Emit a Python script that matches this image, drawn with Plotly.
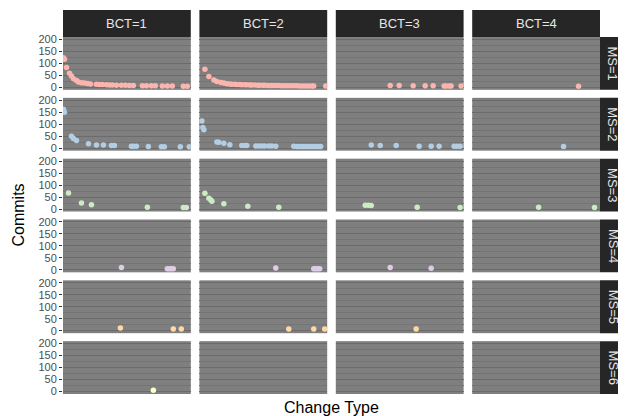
import plotly.graph_objects as go
from plotly.subplots import make_subplots

# ---- facet labels ----
bct_labels = ["BCT=1", "BCT=2", "BCT=3", "BCT=4"]
ms_labels = ["MS=1", "MS=2", "MS=3", "MS=4", "MS=5", "MS=6"]
ms_colors = ["#FBB4AE", "#B3CDE3", "#CCEBC5", "#DECBE4", "#FED9A6", "#FFFFCC"]

# ---- data: change-type index (x) and commits (y) per panel ----
ms1_bct1_type = [1, 2, 4, 7, 9, 11, 14, 16, 19, 22, 25, 28, 34, 37, 40, 44, 47, 50, 54, 59, 63, 67, 71, 80, 84, 89, 93, 100, 105, 110, 121, 125]
ms1_bct1_commits = [124, 117, 83, 59, 48, 36, 29, 23, 20, 18, 16, 14, 13, 12, 12, 11, 10, 10, 9, 9, 9, 8, 8, 7, 7, 7, 7, 6, 6, 6, 5, 5]
ms1_bct2_type = [6, 10, 15, 18, 22, 25, 28, 31, 33, 36, 38, 41, 43, 46, 48, 51, 53, 56, 59, 61, 64, 66, 69, 72, 74, 77, 80, 83, 86, 89, 92, 95, 98, 101, 104, 107, 110, 113, 115, 127]
ms1_bct2_commits = [76, 45, 31, 25, 21, 18, 15, 14, 13, 13, 12, 12, 11, 11, 11, 10, 10, 10, 9, 9, 9, 9, 8, 8, 8, 8, 8, 7, 7, 7, 7, 7, 7, 6, 6, 6, 6, 6, 6, 6]
ms1_bct3_type = [55, 64, 78, 90, 98, 109, 111, 114, 116, 126]
ms1_bct3_commits = [8, 8, 7, 7, 7, 6, 6, 6, 6, 6]
ms1_bct4_type = [107]
ms1_bct4_commits = [5]

ms2_bct1_type = [1, 2, 9, 11, 14, 26, 34, 41, 49, 52, 69, 71, 74, 86, 99, 102, 118, 127]
ms2_bct1_commits = [162, 150, 50, 41, 32, 19, 14, 14, 11, 11, 8, 8, 8, 7, 6, 6, 6, 6]
ms2_bct2_type = [3, 4, 5, 18, 20, 25, 31, 43, 46, 48, 57, 60, 63, 66, 70, 73, 77, 95, 98, 101, 104, 107, 110, 113, 116, 119, 122]
ms2_bct2_commits = [113, 86, 77, 26, 25, 21, 15, 12, 12, 11, 9, 9, 9, 9, 9, 9, 8, 8, 7, 7, 7, 7, 7, 7, 7, 7, 7]
ms2_bct3_type = [36, 45, 61, 84, 96, 104, 119, 122, 125]
ms2_bct3_commits = [14, 12, 11, 8, 8, 8, 8, 8, 8]
ms2_bct4_type = [92]
ms2_bct4_commits = [7]

ms3_bct1_type = [6, 19, 29, 85, 121, 124]
ms3_bct1_commits = [67, 25, 18, 8, 7, 7]
ms3_bct2_type = [6, 10, 12, 13, 25, 49, 80]
ms3_bct2_commits = [66, 45, 38, 33, 22, 12, 8]
ms3_bct3_type = [30, 33, 36, 82, 125]
ms3_bct3_commits = [16, 16, 15, 8, 7]
ms3_bct4_type = [67, 123]
ms3_bct4_commits = [8, 7]

ms4_bct1_type = [59, 105, 107, 109, 111]
ms4_bct1_commits = [10, 5, 5, 5, 5]
ms4_bct2_type = [77, 115, 117, 119, 121]
ms4_bct2_commits = [8, 5, 5, 5, 5]
ms4_bct3_type = [55, 96]
ms4_bct3_commits = [10, 7]
ms4_bct4_type = []
ms4_bct4_commits = []

ms5_bct1_type = [58, 111, 119]
ms5_bct1_commits = [12, 7, 7]
ms5_bct2_type = [90, 115, 126]
ms5_bct2_commits = [7, 7, 7]
ms5_bct3_type = [81]
ms5_bct3_commits = [7]
ms5_bct4_type = []
ms5_bct4_commits = []

ms6_bct1_type = [91]
ms6_bct1_commits = [6]
ms6_bct2_type, ms6_bct2_commits = [], []
ms6_bct3_type, ms6_bct3_commits = [], []
ms6_bct4_type, ms6_bct4_commits = [], []

n_change_types = 128
y_ticks = [0, 50, 100, 150, 200]

panels = {
    (1, 1): (ms1_bct1_type, ms1_bct1_commits), (1, 2): (ms1_bct2_type, ms1_bct2_commits),
    (1, 3): (ms1_bct3_type, ms1_bct3_commits), (1, 4): (ms1_bct4_type, ms1_bct4_commits),
    (2, 1): (ms2_bct1_type, ms2_bct1_commits), (2, 2): (ms2_bct2_type, ms2_bct2_commits),
    (2, 3): (ms2_bct3_type, ms2_bct3_commits), (2, 4): (ms2_bct4_type, ms2_bct4_commits),
    (3, 1): (ms3_bct1_type, ms3_bct1_commits), (3, 2): (ms3_bct2_type, ms3_bct2_commits),
    (3, 3): (ms3_bct3_type, ms3_bct3_commits), (3, 4): (ms3_bct4_type, ms3_bct4_commits),
    (4, 1): (ms4_bct1_type, ms4_bct1_commits), (4, 2): (ms4_bct2_type, ms4_bct2_commits),
    (4, 3): (ms4_bct3_type, ms4_bct3_commits), (4, 4): (ms4_bct4_type, ms4_bct4_commits),
    (5, 1): (ms5_bct1_type, ms5_bct1_commits), (5, 2): (ms5_bct2_type, ms5_bct2_commits),
    (5, 3): (ms5_bct3_type, ms5_bct3_commits), (5, 4): (ms5_bct4_type, ms5_bct4_commits),
    (6, 1): (ms6_bct1_type, ms6_bct1_commits), (6, 2): (ms6_bct2_type, ms6_bct2_commits),
    (6, 3): (ms6_bct3_type, ms6_bct3_commits), (6, 4): (ms6_bct4_type, ms6_bct4_commits),
}

# figure is placed at an 8px page offset (body margin), so size it to the remaining window
W, H = 618, 408
ML, MR, MT, MB = 55, 26, 29, 22
PW, PH = W - ML - MR, H - MT - MB
HGAP, VGAP = 8.6, 8.0

fig = make_subplots(rows=6, cols=4, horizontal_spacing=HGAP / PW, vertical_spacing=VGAP / PH)

for (r, c), (xs, ys) in panels.items():
    fig.add_trace(go.Scatter(x=xs, y=ys, mode="markers",
                             marker=dict(size=5.5, color=ms_colors[r - 1], line=dict(width=0)),
                             showlegend=False, hoverinfo="x+y"), row=r, col=c)

font_family = "Liberation Sans, Arial, sans-serif"

fig.update_xaxes(range=[0.5, n_change_types + 0.5], showticklabels=False, showgrid=False,
                 zeroline=False, ticks="", showline=False)
fig.update_yaxes(range=[-10, 210], tickvals=y_ticks, showgrid=True, gridcolor="#6b6b6b", gridwidth=1,
                 minor=dict(dtick=25, tick0=0, showgrid=True, gridcolor="#747474", gridwidth=0.6),
                 zeroline=False, showline=False, showticklabels=False, ticks="")
for r in range(1, 7):
    fig.update_yaxes(showticklabels=True, ticks="outside", ticklen=3, tickwidth=1, tickcolor="#333333",
                     tickfont=dict(size=11, color="#4d4d4d", family=font_family), row=r, col=1)

shapes, annotations = [], []
# column strips (top)
for c in range(1, 5):
    xa = fig.layout["xaxis" + ("" if c == 1 else str(c))]
    x0, x1 = xa.domain
    shapes.append(dict(type="rect", xref="paper", yref="paper", x0=x0, x1=x1, y0=1, y1=1 + 27 / PH,
                       fillcolor="#262626", line=dict(width=0), layer="below"))
    annotations.append(dict(xref="paper", yref="paper", x=(x0 + x1) / 2, y=1 + 13.5 / PH,
                            text=bct_labels[c - 1], showarrow=False, xanchor="center", yanchor="middle",
                            font=dict(size=13, color="#e6e6e6", family=font_family)))
# row strips (right)
for r in range(1, 7):
    idx = (r - 1) * 4 + 1
    ya = fig.layout["yaxis" + ("" if idx == 1 else str(idx))]
    y0, y1 = ya.domain
    shapes.append(dict(type="rect", xref="paper", yref="paper", x0=1, x1=1 + 26 / PW, y0=y0, y1=y1,
                       fillcolor="#262626", line=dict(width=0), layer="below"))
    annotations.append(dict(xref="paper", yref="paper", x=1 + 13 / PW, y=(y0 + y1) / 2,
                            text=ms_labels[r - 1], showarrow=False, textangle=90,
                            xanchor="center", yanchor="middle",
                            font=dict(size=13, color="#e6e6e6", family=font_family)))

annotations.append(dict(xref="paper", yref="paper", x=0.5, y=-13 / PH, text="Change Type", showarrow=False,
                        xanchor="center", yanchor="middle", font=dict(size=16, color="black", family=font_family)))
annotations.append(dict(xref="paper", yref="paper", x=-45 / PW, y=0.5, text="Commits", showarrow=False,
                        textangle=-90, xanchor="center", yanchor="middle",
                        font=dict(size=16, color="black", family=font_family)))

fig.update_layout(width=W, height=H, margin=dict(l=ML, r=MR, t=MT, b=MB),
                  paper_bgcolor="white", plot_bgcolor="#7f7f7f",
                  shapes=shapes, annotations=annotations, font=dict(family=font_family))

fig.write_html("out.html")
